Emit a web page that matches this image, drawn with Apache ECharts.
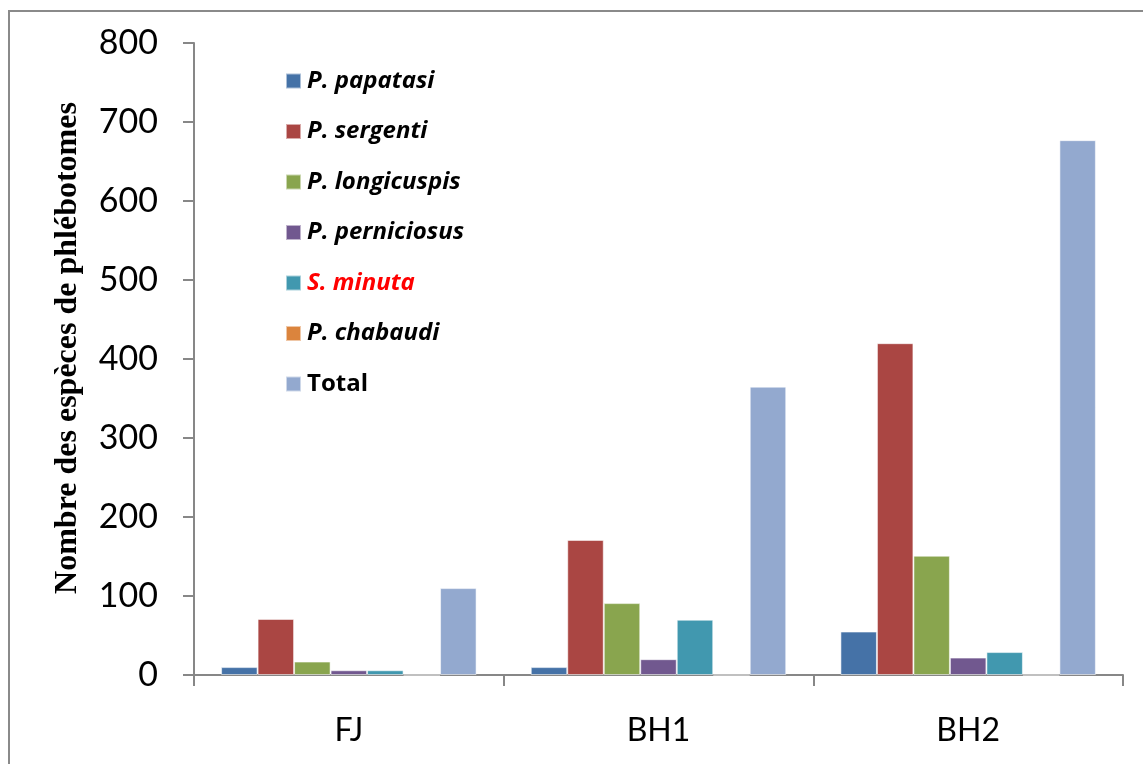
<!DOCTYPE html>
<html>
<head>
<meta charset="utf-8">
<script src="https://cdn.jsdelivr.net/npm/echarts@6/dist/echarts.min.js"></script>
<style>
  html, body { margin: 0; padding: 0; background: #fff; }
  #chart { width: 1143px; height: 764px; }
</style>
</head>
<body>
<div id="chart"></div>
<script>
// Stations sampled
const categories = ['FJ', 'BH1', 'BH2'];

// Sand fly counts per species and station
const papatasi     = [10, 10, 55];
const sergenti     = [71, 171, 420];
const longicuspis  = [17, 91, 151];
const perniciosus  = [6, 20, 22];
const minuta       = [6, 70, 29];
const chabaudi     = [0, 0, 0];
const total        = [110, 365, 677];

const yTicks = [0, 100, 200, 300, 400, 500, 600, 700, 800];

const speciesSeries = [
  { name: 'P. papatasi',    data: papatasi,    color: '#4572A7', textColor: '#000', italic: true },
  { name: 'P. sergenti',    data: sergenti,    color: '#AA4643', textColor: '#000', italic: true },
  { name: 'P. longicuspis', data: longicuspis, color: '#89A54E', textColor: '#000', italic: true },
  { name: 'P. perniciosus', data: perniciosus, color: '#71588F', textColor: '#000', italic: true },
  { name: 'S. minuta',      data: minuta,      color: '#4198AF', textColor: '#ff0000', italic: true },
  { name: 'P. chabaudi',    data: chabaudi,    color: '#DB843D', textColor: '#000', italic: true },
  { name: 'Total',          data: total,       color: '#93A9CF', textColor: '#000', italic: false }
];

const chart = echarts.init(document.getElementById('chart'), null, { renderer: 'canvas' });

const axisGray = '#878787';

chart.setOption({
  animation: false,
  backgroundColor: '#fff',
  grid: { left: 194, right: 20, top: 43, bottom: 89, containLabel: false },
  graphic: [
    {
      type: 'rect',
      shape: { x: 9, y: 11, width: 1160, height: 800 },
      style: { fill: 'none', stroke: '#8a8a8a', lineWidth: 2 },
      silent: true
    },
    {
      type: 'text',
      x: 68, y: 348,
      rotation: Math.PI / 2,
      style: {
        text: 'Nombre des espèces de phlébotomes',
        font: 'bold 32px "Liberation Serif", "Times New Roman", serif',
        fill: '#000',
        align: 'center',
        verticalAlign: 'middle'
      }
    }
  ],
  legend: {
    orient: 'vertical',
    left: 285,
    top: 69,
    padding: 0,
    itemWidth: 15,
    itemHeight: 15,
    itemGap: 26.5,
    icon: 'rect',
    data: speciesSeries.map(s => ({
      name: s.name,
      textStyle: {
        color: s.textColor,
        fontStyle: s.italic ? 'italic' : 'normal',
        fontWeight: 'bold',
        fontSize: 24,
        lineHeight: 24,
        fontFamily: '"Open Sans", sans-serif',
        padding: [0, 0, 0, 1]
      }
    })),
    selectedMode: false
  },
  xAxis: {
    type: 'category',
    data: categories,
    axisLine: { lineStyle: { color: axisGray, width: 2 } },
    axisTick: { show: true, length: 11, inside: false, lineStyle: { color: axisGray, width: 2 } },
    axisLabel: {
      color: '#000',
      fontSize: 32,
      fontFamily: 'Lato, "Open Sans", sans-serif',
      margin: 40
    },
    splitLine: { show: false }
  },
  yAxis: {
    type: 'value',
    min: yTicks[0],
    max: yTicks[yTicks.length - 1],
    interval: yTicks[1] - yTicks[0],
    axisLine: { show: true, lineStyle: { color: axisGray, width: 2 } },
    axisTick: { show: true, length: 11, lineStyle: { color: axisGray, width: 2 } },
    axisLabel: {
      color: '#000',
      fontSize: 34,
      fontFamily: 'Lato, "Open Sans", sans-serif',
      margin: 36
    },
    splitLine: { show: false }
  },
  series: speciesSeries.map(s => ({
    name: s.name,
    type: 'bar',
    data: s.data,
    barGap: '0%',
    barCategoryGap: '17.5%',
    itemStyle: { color: s.color, borderColor: 'rgba(255,255,255,0.55)', borderWidth: 1 }
  }))
});
</script>
</body>
</html>
